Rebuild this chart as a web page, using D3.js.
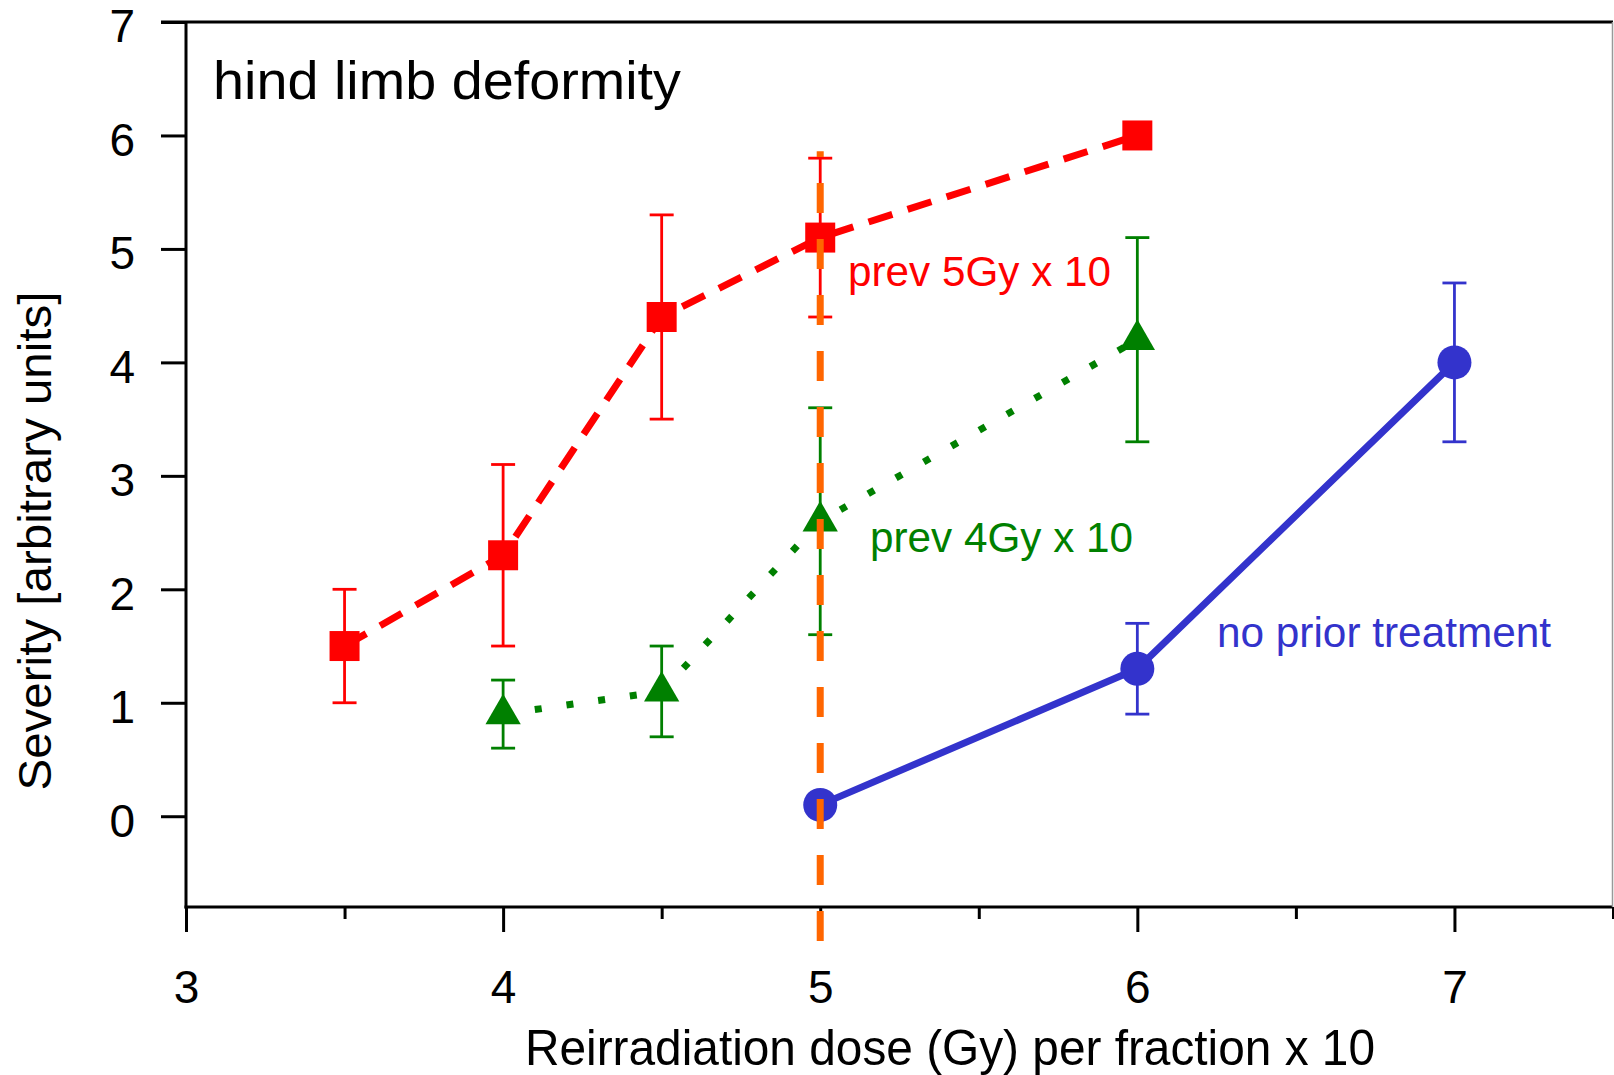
<!DOCTYPE html>
<html>
<head>
<meta charset="utf-8">
<script src="https://cdn.jsdelivr.net/npm/d3@7"></script>
<style>
  body { margin: 0; background: #fff; }
  text { font-family: "Liberation Sans", Arial, sans-serif; }
</style>
</head>
<body>
<div id="chart"></div>
<script>
// data
var xTicks = [3, 4, 5, 6, 7];
var xMinorTicks = [3.5, 4.5, 5.5, 6.5, 7.5];
var yTicks = [0, 1, 2, 3, 4, 5, 6, 7];

// prev 5Gy x 10
var prev5Dose = [3.5, 4, 4.5, 5, 6];
var prev5Sev = [1.5, 2.3, 4.4, 5.1, 6.0];
var prev5Lo = [1.0, 1.5, 3.5, 4.4, null];
var prev5Hi = [2.0, 3.1, 5.3, 5.8, null];

// prev 4Gy x 10
var prev4Dose = [4, 4.5, 5, 6];
var prev4Sev = [0.9, 1.1, 2.6, 4.2];
var prev4Lo = [0.6, 0.7, 1.6, 3.3];
var prev4Hi = [1.2, 1.5, 3.6, 5.1];

// no prior treatment
var noPriorDose = [5, 6, 7];
var noPriorSev = [0.1, 1.3, 4.0];
var noPriorLo = [null, 0.9, 3.3];
var noPriorHi = [null, 1.7, 4.7];

// vertical reference line at 5 Gy
var refDose = 5;
var refRange = [-1.1, 5.86];

var width = 1614,
    height = 1075;

var x = d3.scaleLinear().domain([3, 7.5]).range([186, 1613]);
var y = d3.scaleLinear().domain([-0.8, 7]).range([907, 22]);

var svg = d3.select("#chart")
  .append("svg")
  .attr("width", width)
  .attr("height", height);

function toPoints(dose, sev, lo, hi) {
  return dose.map(function(d, i) {
    return { x: d, y: sev[i], lo: lo[i], hi: hi[i] };
  });
}

var series = [
  { name: "prev5", pts: toPoints(prev5Dose, prev5Sev, prev5Lo, prev5Hi), color: "#ff0000",
    dash: "25,16", width: 7, marker: "square" },
  { name: "prev4", pts: toPoints(prev4Dose, prev4Sev, prev4Lo, prev4Hi), color: "#008000",
    dash: "7,25", width: 7, marker: "triangle" },
  { name: "noprior", pts: toPoints(noPriorDose, noPriorSev, noPriorLo, noPriorHi), color: "#3333cc",
    dash: null, width: 7, marker: "circle" }
];

// axes
var yAxis = d3.axisLeft(y).tickValues(yTicks).tickSize(25).tickPadding(26).tickFormat(d3.format("d"));
var gy = svg.append("g").attr("transform", "translate(" + x(3) + ",0)").call(yAxis);
gy.select(".domain").remove();
gy.selectAll("line").attr("stroke", "#000").attr("stroke-width", 3);
gy.selectAll("text").attr("font-size", 46).attr("dy", "0.43em").attr("fill", "#000");

var xAxis = d3.axisBottom(x).tickValues(xTicks).tickSize(25).tickPadding(38).tickFormat(d3.format("d"));
var gx = svg.append("g").attr("transform", "translate(0," + y(-0.8) + ")").call(xAxis);
gx.select(".domain").remove();
gx.selectAll("line").attr("stroke", "#000").attr("stroke-width", 3);
gx.selectAll("text").attr("font-size", 46).attr("fill", "#000");

var xMinor = d3.axisBottom(x).tickValues(xMinorTicks).tickSize(12).tickFormat("");
var gxm = svg.append("g").attr("transform", "translate(0," + y(-0.8) + ")").call(xMinor);
gxm.select(".domain").remove();
gxm.selectAll("line").attr("stroke", "#000").attr("stroke-width", 3);

// frame
var frame = svg.append("g").attr("stroke", "#000").attr("stroke-width", 3);
frame.append("line").attr("x1", x(3)).attr("x2", x(3)).attr("y1", y(7)).attr("y2", y(-0.8) + 1.5);
frame.append("line").attr("x1", x(3) - 25).attr("x2", x(7.5)).attr("y1", y(7)).attr("y2", y(7));
frame.append("line").attr("x1", x(3) - 1.5).attr("x2", x(7.5)).attr("y1", y(-0.8)).attr("y2", y(-0.8));
frame.append("line").attr("x1", x(7.5) - 0.5).attr("x2", x(7.5) - 0.5).attr("y1", y(7)).attr("y2", y(-0.8))
  .attr("stroke", "#999").attr("stroke-width", 1.5);

// axis titles
svg.append("text")
  .attr("x", 950).attr("y", 1065)
  .attr("text-anchor", "middle")
  .attr("font-size", 50)
  .attr("textLength", 850).attr("lengthAdjust", "spacingAndGlyphs")
  .text("Reirradiation dose (Gy) per fraction x 10");

svg.append("text")
  .attr("transform", "translate(51,541) rotate(-90)")
  .attr("text-anchor", "middle")
  .attr("font-size", 47)
  .attr("textLength", 499).attr("lengthAdjust", "spacingAndGlyphs")
  .text("Severity [arbitrary units]");

svg.append("text")
  .attr("x", 213).attr("y", 99)
  .attr("font-size", 54)
  .attr("textLength", 468).attr("lengthAdjust", "spacingAndGlyphs")
  .text("hind limb deformity");

// connecting lines
var line = d3.line().x(function(d) { return x(d.x); }).y(function(d) { return y(d.y); });

series.forEach(function(s) {
  svg.append("path")
    .datum(s.pts)
    .attr("d", line)
    .attr("fill", "none")
    .attr("stroke", s.color)
    .attr("stroke-width", s.width)
    .attr("stroke-dasharray", s.dash);
});

// error bars
var capW = 12;
series.forEach(function(s) {
  var eb = svg.append("g").attr("stroke", s.color).attr("stroke-width", 2.8);
  var withErr = s.pts.filter(function(d) { return d.lo != null; });
  eb.selectAll(".v").data(withErr).enter().append("line")
    .attr("x1", function(d) { return x(d.x); })
    .attr("x2", function(d) { return x(d.x); })
    .attr("y1", function(d) { return y(d.lo); })
    .attr("y2", function(d) { return y(d.hi); });
  ["lo", "hi"].forEach(function(k) {
    eb.selectAll(".c" + k).data(withErr).enter().append("line")
      .attr("x1", function(d) { return x(d.x) - capW; })
      .attr("x2", function(d) { return x(d.x) + capW; })
      .attr("y1", function(d) { return y(d[k]); })
      .attr("y2", function(d) { return y(d[k]); });
  });
});

// markers
series.forEach(function(s) {
  var g = svg.append("g").attr("fill", s.color);
  if (s.marker === "circle") {
    g.selectAll("ellipse").data(s.pts).enter().append("ellipse")
      .attr("cx", function(d) { return x(d.x); })
      .attr("cy", function(d) { return y(d.y); })
      .attr("rx", 17)
      .attr("ry", 17);
  } else {
    var sym = d3.symbol()
      .type(s.marker === "square" ? d3.symbolSquare : d3.symbolTriangle)
      .size(s.marker === "square" ? 900 : 540);
    g.selectAll("path").data(s.pts).enter().append("path")
      .attr("transform", function(d) { return "translate(" + x(d.x) + "," + y(d.y) + ")"; })
      .attr("d", sym);
  }
});

// orange reference line
svg.append("line")
  .attr("x1", x(refDose)).attr("x2", x(refDose))
  .attr("y1", y(refRange[0])).attr("y2", y(refRange[1]))
  .attr("stroke", "#ff6600")
  .attr("stroke-width", 7)
  .attr("stroke-dasharray", "30,26");

// series labels
svg.append("text")
  .attr("x", 848).attr("y", 286)
  .attr("font-size", 42).attr("fill", "#ff0000")
  .attr("textLength", 263).attr("lengthAdjust", "spacingAndGlyphs")
  .text("prev 5Gy x 10");

svg.append("text")
  .attr("x", 870).attr("y", 552)
  .attr("font-size", 42).attr("fill", "#008000")
  .attr("textLength", 263).attr("lengthAdjust", "spacingAndGlyphs")
  .text("prev 4Gy x 10");

svg.append("text")
  .attr("x", 1217).attr("y", 647)
  .attr("font-size", 42.5).attr("fill", "#3333cc")
  .attr("textLength", 334).attr("lengthAdjust", "spacingAndGlyphs")
  .text("no prior treatment");
</script>
</body>
</html>
